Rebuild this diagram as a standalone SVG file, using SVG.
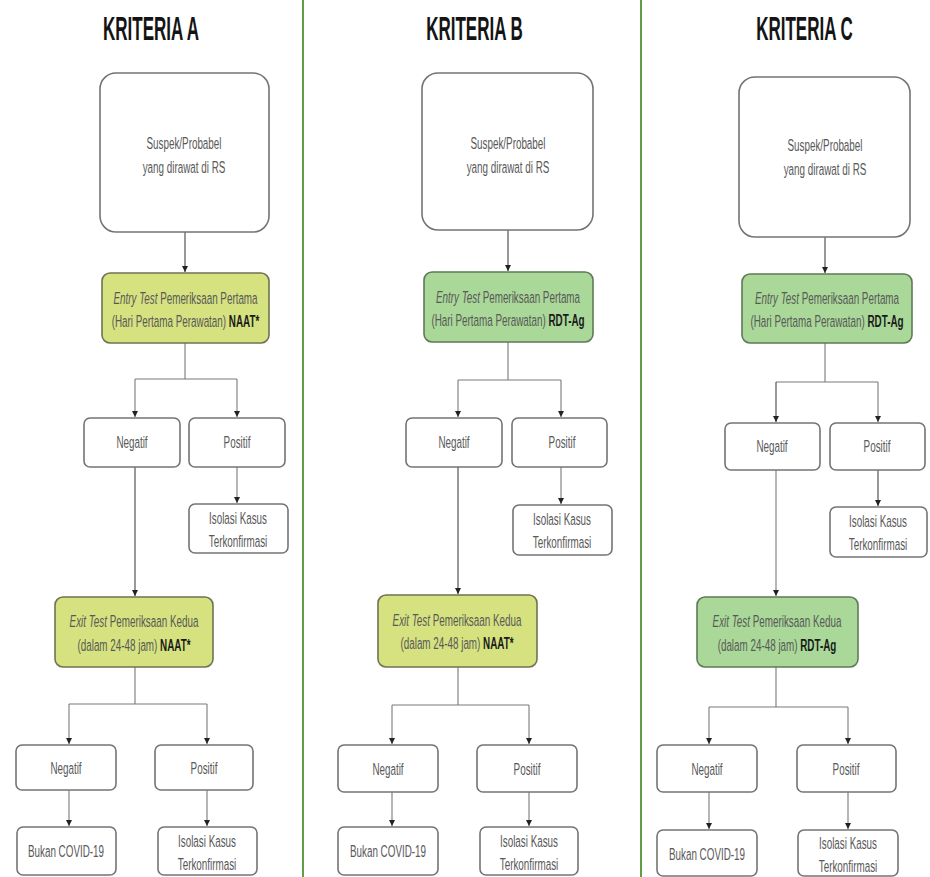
<svg xmlns="http://www.w3.org/2000/svg" width="930" height="877" viewBox="0 0 930 877">
  <defs>
    <marker id="tip" markerUnits="userSpaceOnUse" markerWidth="6" markerHeight="8" refX="6" refY="3" orient="auto">
      <path d="M0,0 L6,3 L0,6 Z" fill="#222"/>
    </marker>
  </defs>
  <style>
    .divider { stroke: #5f9e45; stroke-width: 2; }
    .box { fill: #ffffff; stroke: #747474; stroke-width: 1.6; }
    .yel { fill: #d5e27f; stroke: #6f7352; stroke-width: 1.6; }
    .grn { fill: #a9d898; stroke: #5f7a57; stroke-width: 1.6; }
    .line { fill: none; stroke: #7a7a7a; stroke-width: 1.1; }
    .dark { stroke: #444; }
    .t { font-family: "Liberation Sans", Arial, sans-serif; font-size: 17px; fill: #595959; text-anchor: middle; }
    .h { font-family: "Liberation Sans", Arial, sans-serif; font-size: 34px; font-weight: bold; fill: #141414; text-anchor: middle; }
    .i { font-style: italic; }
    .b { font-weight: bold; fill: #1a1a1a; }
  </style>

  <rect width="930" height="877" fill="#ffffff"/>

  <!-- column dividers -->
  <line class="divider" x1="303" y1="0" x2="303" y2="877"/>
  <line class="divider" x1="641" y1="0" x2="641" y2="877"/>

  <!-- column headings -->
  <text class="h" transform="translate(151,40) scale(0.5,1)">KRITERIA A</text>
  <text class="h" transform="translate(474.5,40) scale(0.5,1)">KRITERIA B</text>
  <text class="h" transform="translate(804.5,40) scale(0.5,1)">KRITERIA C</text>

  <!-- connectors -->
  <g id="connectors">
    <!-- A -->
    <path class="line dark" d="M185,232 V272" marker-end="url(#tip)"/>
    <path class="line" d="M185,343 V379 M135,379 H237"/>
    <path class="line" d="M135,379 V417" marker-end="url(#tip)"/>
    <path class="line" d="M237,379 V417" marker-end="url(#tip)"/>
    <path class="line" d="M237,467 V503" marker-end="url(#tip)"/>
    <path class="line dark" d="M135,467 V596" marker-end="url(#tip)"/>
    <path class="line" d="M135,667 V704 M69,704 H207"/>
    <path class="line" d="M69,704 V744" marker-end="url(#tip)"/>
    <path class="line" d="M207,704 V744" marker-end="url(#tip)"/>
    <path class="line" d="M69,790 V826" marker-end="url(#tip)"/>
    <path class="line" d="M207,790 V826" marker-end="url(#tip)"/>
    <!-- B -->
    <path class="line dark" d="M508,230 V271" marker-end="url(#tip)"/>
    <path class="line" d="M508,342 V380 M458,380 H561"/>
    <path class="line" d="M458,380 V417" marker-end="url(#tip)"/>
    <path class="line" d="M561,380 V417" marker-end="url(#tip)"/>
    <path class="line" d="M561,467 V504" marker-end="url(#tip)"/>
    <path class="line dark" d="M458,467 V594" marker-end="url(#tip)"/>
    <path class="line" d="M458,667 V705 M392,705 H529"/>
    <path class="line" d="M392,705 V744" marker-end="url(#tip)"/>
    <path class="line" d="M529,705 V744" marker-end="url(#tip)"/>
    <path class="line" d="M392,792 V826" marker-end="url(#tip)"/>
    <path class="line" d="M529,792 V826" marker-end="url(#tip)"/>
    <!-- C -->
    <path class="line dark" d="M825,237 V273" marker-end="url(#tip)"/>
    <path class="line" d="M825,343 V382 M776,382 H878"/>
    <path class="line dark" d="M776,382 V422" marker-end="url(#tip)"/>
    <path class="line" d="M878,382 V422" marker-end="url(#tip)"/>
    <path class="line dark" d="M878,470 V506" marker-end="url(#tip)"/>
    <path class="line" d="M776,470 V596" marker-end="url(#tip)"/>
    <path class="line" d="M776,667 V707 M709,707 H848"/>
    <path class="line" d="M709,707 V744" marker-end="url(#tip)"/>
    <path class="line" d="M848,707 V744" marker-end="url(#tip)"/>
    <path class="line" d="M709,792 V829" marker-end="url(#tip)"/>
    <path class="line" d="M848,792 V829" marker-end="url(#tip)"/>
  </g>

  <!-- ===== Kriteria A ===== -->
  <g id="a-start">
    <rect class="box" x="100" y="73" width="169" height="159" rx="16"/>
    <text class="t" transform="translate(184,149) scale(0.58,1)">Suspek/Probabel</text>
    <text class="t" transform="translate(184,173) scale(0.58,1)">yang dirawat di RS</text>
  </g>
  <g id="a-entry">
    <rect class="yel" x="102" y="273" width="167" height="70" rx="8"/>
    <text class="t" transform="translate(185.5,304) scale(0.58,1)"><tspan class="i">Entry Test</tspan> Pemeriksaan Pertama</text>
    <text class="t" transform="translate(185.5,327) scale(0.58,1)">(Hari Pertama Perawatan) <tspan class="b">NAAT*</tspan></text>
  </g>
  <g id="a-neg1">
    <rect class="box" x="84" y="418" width="96" height="49" rx="6"/>
    <text class="t" transform="translate(132,448) scale(0.58,1)">Negatif</text>
  </g>
  <g id="a-pos1">
    <rect class="box" x="189" y="418" width="96" height="49" rx="6"/>
    <text class="t" transform="translate(237,448) scale(0.58,1)">Positif</text>
  </g>
  <g id="a-iso1">
    <rect class="box" x="189" y="504" width="99" height="49" rx="6"/>
    <text class="t" transform="translate(238,524) scale(0.58,1)">Isolasi Kasus</text>
    <text class="t" transform="translate(238,547) scale(0.58,1)">Terkonfirmasi</text>
  </g>
  <g id="a-exit">
    <rect class="yel" x="55" y="597" width="158" height="70" rx="8"/>
    <text class="t" transform="translate(134,627) scale(0.58,1)"><tspan class="i">Exit Test</tspan> Pemeriksaan Kedua</text>
    <text class="t" transform="translate(134,651) scale(0.58,1)">(dalam 24-48 jam) <tspan class="b">NAAT*</tspan></text>
  </g>
  <g id="a-neg2">
    <rect class="box" x="16" y="745" width="100" height="45" rx="6"/>
    <text class="t" transform="translate(66,774) scale(0.58,1)">Negatif</text>
  </g>
  <g id="a-pos2">
    <rect class="box" x="155" y="745" width="98" height="45" rx="6"/>
    <text class="t" transform="translate(204,774) scale(0.58,1)">Positif</text>
  </g>
  <g id="a-bukan">
    <rect class="box" x="17" y="827" width="99" height="48" rx="6"/>
    <text class="t" transform="translate(66,857) scale(0.58,1)">Bukan COVID-19</text>
  </g>
  <g id="a-iso2">
    <rect class="box" x="158" y="827" width="99" height="48" rx="6"/>
    <text class="t" transform="translate(207,847) scale(0.58,1)">Isolasi Kasus</text>
    <text class="t" transform="translate(207,870) scale(0.58,1)">Terkonfirmasi</text>
  </g>

  <!-- ===== Kriteria B ===== -->
  <g id="b-start">
    <rect class="box" x="422" y="73" width="171" height="157" rx="16"/>
    <text class="t" transform="translate(508,149) scale(0.58,1)">Suspek/Probabel</text>
    <text class="t" transform="translate(508,173) scale(0.58,1)">yang dirawat di RS</text>
  </g>
  <g id="b-entry">
    <rect class="grn" x="424" y="272" width="169" height="70" rx="8"/>
    <text class="t" transform="translate(508,303) scale(0.58,1)"><tspan class="i">Entry Test</tspan> Pemeriksaan Pertama</text>
    <text class="t" transform="translate(508,326) scale(0.58,1)">(Hari Pertama Perawatan) <tspan class="b">RDT-Ag</tspan></text>
  </g>
  <g id="b-neg1">
    <rect class="box" x="406" y="418" width="96" height="49" rx="6"/>
    <text class="t" transform="translate(454,448) scale(0.58,1)">Negatif</text>
  </g>
  <g id="b-pos1">
    <rect class="box" x="512" y="418" width="95" height="49" rx="6"/>
    <text class="t" transform="translate(562,448) scale(0.58,1)">Positif</text>
  </g>
  <g id="b-iso1">
    <rect class="box" x="513" y="505" width="99" height="50" rx="6"/>
    <text class="t" transform="translate(562,525) scale(0.58,1)">Isolasi Kasus</text>
    <text class="t" transform="translate(562,548) scale(0.58,1)">Terkonfirmasi</text>
  </g>
  <g id="b-exit">
    <rect class="yel" x="378" y="595" width="159" height="72" rx="8"/>
    <text class="t" transform="translate(457,626) scale(0.58,1)"><tspan class="i">Exit Test</tspan> Pemeriksaan Kedua</text>
    <text class="t" transform="translate(457,649) scale(0.58,1)">(dalam 24-48 jam)  <tspan class="b">NAAT*</tspan></text>
  </g>
  <g id="b-neg2">
    <rect class="box" x="338" y="745" width="100" height="47" rx="6"/>
    <text class="t" transform="translate(388,775) scale(0.58,1)">Negatif</text>
  </g>
  <g id="b-pos2">
    <rect class="box" x="477" y="745" width="100" height="47" rx="6"/>
    <text class="t" transform="translate(527,775) scale(0.58,1)">Positif</text>
  </g>
  <g id="b-bukan">
    <rect class="box" x="338" y="827" width="100" height="48" rx="6"/>
    <text class="t" transform="translate(388,857) scale(0.58,1)">Bukan COVID-19</text>
  </g>
  <g id="b-iso2">
    <rect class="box" x="480" y="827" width="98" height="48" rx="6"/>
    <text class="t" transform="translate(529,847) scale(0.58,1)">Isolasi Kasus</text>
    <text class="t" transform="translate(529,870) scale(0.58,1)">Terkonfirmasi</text>
  </g>

  <!-- ===== Kriteria C ===== -->
  <g id="c-start">
    <rect class="box" x="739" y="77" width="171" height="160" rx="16"/>
    <text class="t" transform="translate(825,151) scale(0.58,1)">Suspek/Probabel</text>
    <text class="t" transform="translate(825,175) scale(0.58,1)">yang dirawat di RS</text>
  </g>
  <g id="c-entry">
    <rect class="grn" x="742" y="274" width="170" height="69" rx="8"/>
    <text class="t" transform="translate(827,304) scale(0.58,1)"><tspan class="i">Entry Test</tspan> Pemeriksaan Pertama</text>
    <text class="t" transform="translate(827,327) scale(0.58,1)">(Hari Pertama Perawatan) <tspan class="b">RDT-Ag</tspan></text>
  </g>
  <g id="c-neg1">
    <rect class="box" x="725" y="423" width="95" height="47" rx="6"/>
    <text class="t" transform="translate(772,452) scale(0.58,1)">Negatif</text>
  </g>
  <g id="c-pos1">
    <rect class="box" x="830" y="423" width="95" height="47" rx="6"/>
    <text class="t" transform="translate(877,452) scale(0.58,1)">Positif</text>
  </g>
  <g id="c-iso1">
    <rect class="box" x="830" y="507" width="97" height="50" rx="6"/>
    <text class="t" transform="translate(878,527) scale(0.58,1)">Isolasi Kasus</text>
    <text class="t" transform="translate(878,550) scale(0.58,1)">Terkonfirmasi</text>
  </g>
  <g id="c-exit">
    <rect class="grn" x="697" y="597" width="161" height="70" rx="8"/>
    <text class="t" transform="translate(777,627) scale(0.58,1)"><tspan class="i">Exit Test</tspan> Pemeriksaan Kedua</text>
    <text class="t" transform="translate(777,651) scale(0.58,1)">(dalam 24-48 jam) <tspan class="b">RDT-Ag</tspan></text>
  </g>
  <g id="c-neg2">
    <rect class="box" x="657" y="745" width="100" height="47" rx="6"/>
    <text class="t" transform="translate(707,775) scale(0.58,1)">Negatif</text>
  </g>
  <g id="c-pos2">
    <rect class="box" x="797" y="745" width="99" height="47" rx="6"/>
    <text class="t" transform="translate(846,775) scale(0.58,1)">Positif</text>
  </g>
  <g id="c-bukan">
    <rect class="box" x="657" y="830" width="100" height="46" rx="6"/>
    <text class="t" transform="translate(707,860) scale(0.58,1)">Bukan COVID-19</text>
  </g>
  <g id="c-iso2">
    <rect class="box" x="798" y="830" width="100" height="46" rx="6"/>
    <text class="t" transform="translate(848,849) scale(0.58,1)">Isolasi Kasus</text>
    <text class="t" transform="translate(848,872) scale(0.58,1)">Terkonfirmasi</text>
  </g>
</svg>
